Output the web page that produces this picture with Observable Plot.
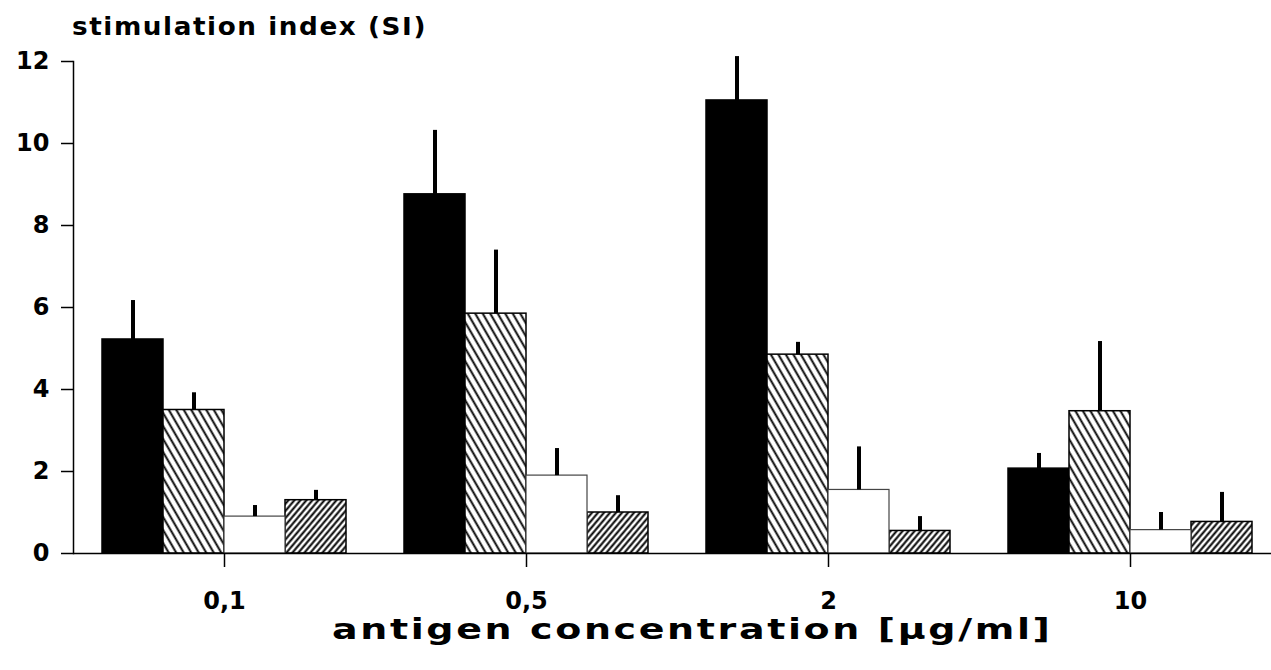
<!DOCTYPE html>
<html><head><meta charset="utf-8">
<script src="https://cdn.jsdelivr.net/npm/d3@7"></script>
<script src="https://cdn.jsdelivr.net/npm/@observablehq/plot@0.6"></script>
<style>
html,body{margin:0;background:#fff;overflow:hidden;}
#title{height:46px;box-sizing:border-box;padding-top:14px;padding-left:72px;font:bold 25px/1 "DejaVu Sans";letter-spacing:1.5px;color:#000;white-space:nowrap;}
#title span,#caption span{display:inline-block;transform-origin:left center;}
#title span{transform:scaleX(1.05);}
#caption{margin-top:-5px;height:55px;padding-left:332px;font:bold 29px/1 "DejaVu Sans";letter-spacing:2px;color:#000;white-space:nowrap;}
#caption span{transform:scaleX(1.31);}
</style></head><body>
<div id="title"><span>stimulation index (SI)</span></div>
<div id="chart"></div>
<div id="caption"><span>antigen concentration [µg/ml]</span></div>
<script>
// categories
const concentrations = ["0,1", "0,5", "2", "10"];
const seriesNames = ["solid", "hatched", "open", "dense hatched"];
// mean stimulation index per series (one value per concentration)
const solidValues  = [5.22, 8.76, 11.05, 2.07];
const hatchedValues = [3.50, 5.85, 4.85, 3.47];
const openValues   = [0.90, 1.90, 1.55, 0.57];
const denseValues  = [1.30, 1.00, 0.55, 0.77];
// upward error (SD) per series
const solidErr   = [0.95, 1.56, 1.07, 0.37];
const hatchedErr = [0.42, 1.55, 0.30, 1.70];
const openErr    = [0.27, 0.66, 1.05, 0.43];
const denseErr   = [0.24, 0.41, 0.35, 0.72];
// y-axis ticks
const yTicks = [0, 2, 4, 6, 8, 10, 12];

const valueSets = [solidValues, hatchedValues, openValues, denseValues];
const errSets = [solidErr, hatchedErr, openErr, denseErr];
const rows = [];
concentrations.forEach((c, i) => {
  seriesNames.forEach((s, j) => {
    rows.push({conc: c, series: s, value: valueSets[j][i], sd: errSets[j][i]});
  });
});

const plot = Plot.plot({
  width: 1271,
  height: 574,
  marginLeft: 73,
  marginRight: 0,
  marginTop: 15,
  marginBottom: 67,
  style: {fontFamily: "DejaVu Sans", fontSize: "24px", fontWeight: "bold", color: "black", background: "white", overflow: "visible"},
  fx: {domain: concentrations, padding: 0, range: [73, 1281]},
  x: {domain: seriesNames, paddingInner: 0, paddingOuter: 0.475, axis: null},
  y: {domain: [0, 12], axis: null},
  color: {domain: seriesNames, range: ["black", "url(#hatchA)", "white", "url(#hatchB)"]},
  marks: [
    Plot.barY(rows.filter(d => d.series !== "open"), {fx: "conc", x: "series", y: "value", fill: "series", stroke: "black", strokeWidth: 1.5}),
    Plot.barY(rows.filter(d => d.series === "open"), {fx: "conc", x: "series", y: "value", fill: "series", stroke: "#444", strokeWidth: 1.2}),
    Plot.ruleX(rows, {fx: "conc", x: "series", y1: "value", y2: d => d.value + d.sd, stroke: "black", strokeWidth: 4}),
    Plot.ruleY([0], {stroke: "black", strokeWidth: 1.5}),
    Plot.frame({anchor: "left", facetAnchor: "left", stroke: "black", strokeWidth: 1.5}),
    Plot.axisY({ticks: yTicks, tickSize: 12, tickPadding: 12, label: null, strokeWidth: 1.5, fontSize: 24, fontWeight: "bold"}),
    Plot.axisFx({anchor: "bottom", tickSize: 14, tickPadding: 24, label: null, strokeWidth: 1.5, fontSize: 24, fontWeight: "bold"})
  ]
});

const defs = d3.select(plot).insert("defs", ":first-child");
defs.html(
  '<pattern id="hatchA" patternUnits="userSpaceOnUse" width="6.5" height="10" patternTransform="rotate(-30)">' +
  '<rect width="6.5" height="10" fill="white"/><line x1="3.25" y1="0" x2="3.25" y2="10" stroke="black" stroke-width="1.9"/></pattern>' +
  '<pattern id="hatchB" patternUnits="userSpaceOnUse" width="4.6" height="10" patternTransform="rotate(40)">' +
  '<rect width="4.6" height="10" fill="white"/><line x1="2.3" y1="0" x2="2.3" y2="10" stroke="black" stroke-width="2"/></pattern>'
);
document.getElementById("chart").appendChild(plot);
</script>
</body></html>
